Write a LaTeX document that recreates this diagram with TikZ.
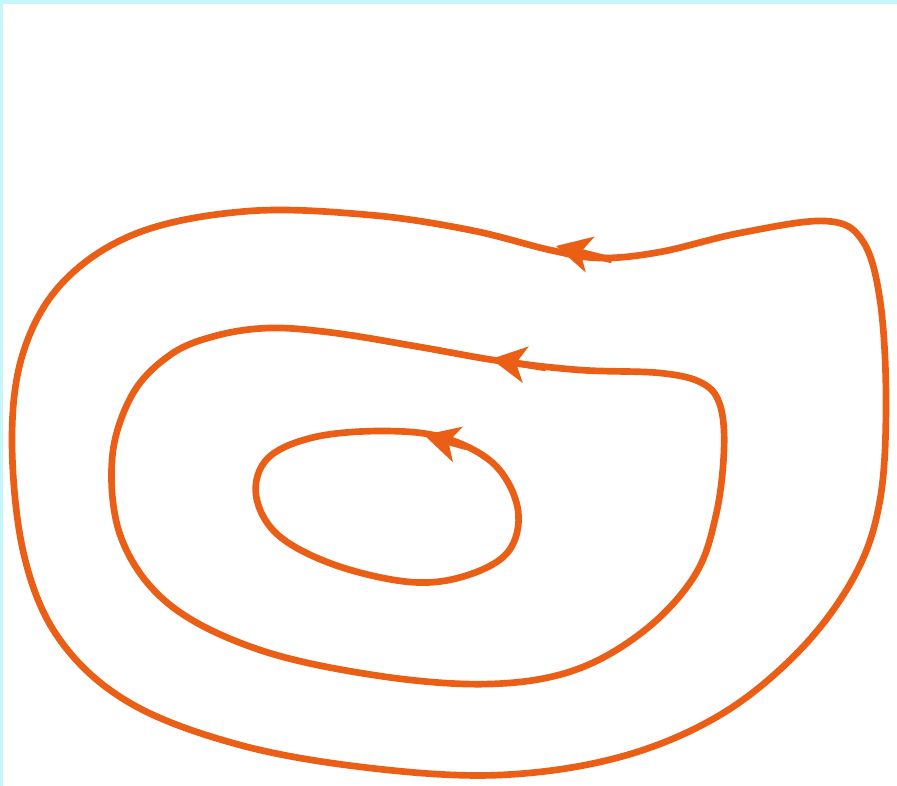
\documentclass[tikz,border=0pt]{standalone}
\usetikzlibrary{arrows.meta}
\definecolor{curveorange}{RGB}{234,94,22}
\definecolor{edgecyan}{RGB}{196,246,250}
\begin{document}
\begin{tikzpicture}[x=0.75pt,y=-0.75pt,
  curve/.style={draw=curveorange,line width=5pt,line join=round},
  dirarrow/.style={draw=curveorange,line width=5pt,-{Stealth[length=26pt,width=27pt,inset=7pt]}}]
\fill[white] (0,0) rectangle (897,786);
\useasboundingbox (0,0) rectangle (897,786);
\fill[edgecyan] (0,0) rectangle (897,4);
\fill[edgecyan] (0,0) rectangle (2.5,786);
% outer curve
\draw[curve] plot[smooth cycle,tension=0.6] coordinates {
 (825,221) (862,240) (880,300) (886,400) (880,500) (855,575) (800,650) (720,715)
 (620,757) (500,775) (370,768) (240,745) (130,703) (60,640) (24,555) (12,440)
 (24,350) (65,280) (140,232) (250,211) (370,215) (470,230) (550,250) (600,258)
 (660,252) (740,233)};
% middle curve
\draw[curve] plot[smooth cycle,tension=0.6] coordinates {
 (270,328) (335,333) (420,347) (500,361) (580,370) (660,373) (702,383) (720,405)
 (724,450) (716,515) (695,575) (645,630) (575,670) (490,684) (380,676) (260,650)
 (170,605) (122,540) (112,460) (132,395) (170,355) (215,336)};
% inner curve
\draw[curve] plot[smooth cycle,tension=0.6] coordinates {
 (385,431) (445,438) (495,465) (518,510) (508,552) (465,576) (410,582) (335,565)
 (278,535) (256,495) (268,458) (315,437)};
% arrows
\draw[dirarrow] (612,260) -- (556,246);
\draw[dirarrow] (546,368) -- (491,359);
\draw[dirarrow] (467,447) -- (424,435);
\end{tikzpicture}
\end{document}
